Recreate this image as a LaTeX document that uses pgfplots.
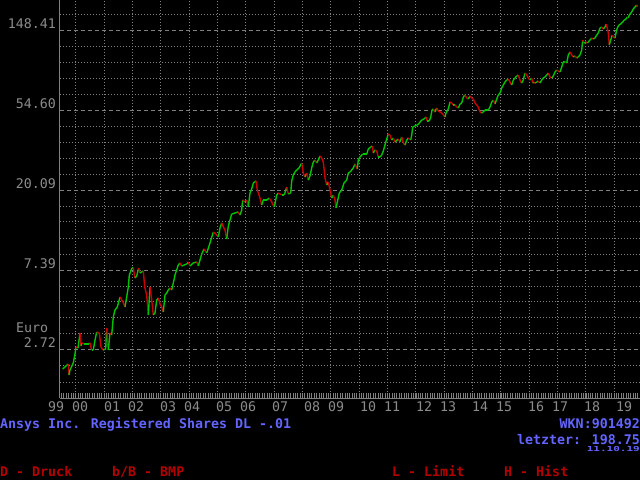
\documentclass[border=0pt]{standalone}
\usepackage{fontspec}
\usepackage{graphicx}
\usepackage{pgfplots}
\pgfplotsset{compat=1.18}
\newfontfamily\mono{DejaVu Sans Mono}
\definecolor{gr}{RGB}{128,128,128}
\definecolor{lbl}{RGB}{140,140,140}
\definecolor{blu}{RGB}{100,100,255}
\definecolor{rd}{RGB}{180,0,0}
\newcommand{\lf}{\mono\fontsize{13.3}{16}\selectfont}
\newcommand{\bfnt}{\mono\bfseries\fontsize{13.3}{16}\selectfont}
\pgfplotstableread{
t p c
1999.541 2.144 0
1999.658 2.226 0
1999.739 2.282 1
1999.764 1.989 0
1999.799 2.117 0
1999.915 2.311 0
1999.975 2.586 0
2000.011 2.822 1
2000.081 2.787 0
2000.152 3.362 1
2000.187 2.858 0
2000.222 2.967 1
2000.293 2.930 0
2000.469 2.930 0
2000.504 2.967 1
2000.564 2.718 0
2000.621 2.718 0
2000.681 3.080 0
2000.741 3.404 1
2000.832 3.362 1
2000.892 2.822 1
2000.963 2.718 0
2001.058 2.753 0
2001.093 3.579 1
2001.150 2.718 0
2001.210 3.362 1
2001.270 3.279 0
2001.326 4.106 0
2001.386 4.482 0
2001.467 4.653 0
2001.563 5.273 1
2001.668 4.953 1
2001.739 4.653 0
2001.799 5.273 0
2001.855 5.975 0
2001.891 6.941 0
2001.986 7.576 0
2002.032 7.576 1
2002.092 6.686 0
2002.152 6.855 0
2002.222 7.576 1
2002.268 7.117 0
2002.385 7.297 1
2002.434 5.975 1
2002.504 5.406 1
2002.561 4.210 0
2002.621 5.975 1
2002.681 5.078 1
2002.737 4.210 0
2002.797 4.317 0
2002.857 5.078 0
2002.914 5.207 1
2002.974 4.831 1
2003.034 4.653 1
2003.090 4.371 0
2003.150 5.406 0
2003.210 5.543 0
2003.266 5.755 0
2003.326 5.900 1
2003.386 5.755 0
2003.443 6.281 0
2003.503 6.941 0
2003.619 7.866 0
2003.679 8.065 1
2003.739 7.768 0
2003.915 7.965 0
2003.972 8.166 1
2004.032 7.768 0
2004.138 8.065 0
2004.268 8.166 1
2004.325 7.768 0
2004.384 8.373 0
2004.444 9.025 0
2004.526 9.607 1
2004.621 9.139 0
2004.737 10.36 0
2004.854 11.88 1
2004.949 11.59 1
2005.030 11.16 0
2005.090 12.49 0
2005.150 13.30 1
2005.206 12.65 1
2005.266 12.18 1
2005.326 10.89 0
2005.383 12.81 0
2005.443 13.80 0
2005.503 14.88 0
2005.619 15.07 0
2005.735 15.26 1
2005.795 14.70 0
2005.855 15.64 0
2005.891 17.73 1
2005.972 17.29 0
2006.032 17.73 1
2006.088 16.24 0
2006.148 19.35 0
2006.208 20.34 0
2006.265 21.92 0
2006.360 22.48 1
2006.406 20.09 1
2006.501 18.17 1
2006.561 16.65 0
2006.617 17.73 0
2006.737 17.73 0
2006.829 18.17 1
2006.914 17.29 1
2007.005 16.24 0
2007.090 18.87 0
2007.146 19.35 1
2007.266 18.87 0
2007.358 18.87 0
2007.443 20.85 1
2007.499 19.11 0
2007.584 19.35 0
2007.619 22.48 0
2007.675 24.23 0
2007.735 25.15 0
2007.795 25.79 0
2007.877 26.44 0
2007.972 28.15 1
2008.028 24.84 1
2008.088 23.63 0
2008.148 24.84 1
2008.205 22.76 0
2008.265 23.93 0
2008.324 26.44 0
2008.381 28.50 0
2008.441 29.22 1
2008.501 28.15 0
2008.557 29.22 0
2008.617 30.72 1
2008.677 29.96 1
2008.734 28.50 1
2008.794 23.34 1
2008.854 21.38 0
2008.910 22.20 1
2008.970 20.09 1
2009.030 18.17 0
2009.086 18.87 1
2009.146 17.73 1
2009.182 16.04 0
2009.228 17.29 0
2009.298 19.35 0
2009.383 20.09 0
2009.464 21.92 0
2009.559 22.76 0
2009.616 24.84 0
2009.676 25.15 0
2009.792 26.44 0
2009.852 27.80 1
2009.933 26.11 0
2009.968 29.22 0
2010.028 30.34 0
2010.123 31.50 0
2010.265 31.50 0
2010.321 33.53 0
2010.406 34.38 0
2010.462 34.81 1
2010.497 31.90 0
2010.557 33.12 1
2010.617 32.70 1
2010.674 30.34 0
2010.734 30.34 0
2010.794 31.11 0
2010.850 32.70 0
2010.910 35.25 0
2010.970 38.00 0
2011.026 40.45 1
2011.086 39.94 1
2011.146 37.53 0
2011.203 38.47 1
2011.263 36.60 0
2011.379 38.00 1
2011.439 36.60 0
2011.499 38.96 1
2011.556 36.14 1
2011.616 35.25 0
2011.676 37.53 0
2011.732 38.47 1
2011.817 37.53 0
2011.852 39.94 0
2011.887 44.15 0
2011.968 44.70 0
2012.049 45.26 0
2012.120 46.41 0
2012.205 48.18 0
2012.286 48.79 0
2012.356 50.02 1
2012.402 47.58 0
2012.473 47.58 0
2012.522 50.02 0
2012.568 54.60 0
2012.614 55.29 1
2012.674 53.25 0
2012.734 55.98 1
2012.790 53.92 1
2012.850 53.25 1
2012.910 52.59 1
2012.966 51.29 1
2013.026 50.02 0
2013.062 52.59 0
2013.143 55.29 0
2013.203 60.34 1
2013.263 59.59 1
2013.319 58.12 0
2013.379 58.12 1
2013.439 56.68 1
2013.496 55.98 0
2013.556 58.85 0
2013.616 59.59 0
2013.672 64.23 0
2013.732 65.86 1
2013.792 63.43 1
2013.848 62.65 0
2013.908 65.04 1
2013.968 63.43 1
2014.025 62.65 1
2014.085 59.59 1
2014.145 58.12 1
2014.201 56.68 1
2014.261 53.25 1
2014.321 52.59 0
2014.377 53.25 0
2014.437 54.60 0
2014.554 54.60 0
2014.614 56.68 0
2014.674 60.34 0
2014.730 61.87 1
2014.790 58.85 0
2014.850 62.65 0
2014.907 65.86 0
2014.967 67.52 0
2015.026 71.88 0
2015.083 74.62 0
2015.143 77.47 0
2015.203 79.44 0
2015.259 80.43 1
2015.319 77.47 1
2015.379 74.62 0
2015.436 79.44 0
2015.496 81.45 0
2015.556 83.51 0
2015.612 84.56 1
2015.672 79.44 1
2015.732 76.51 0
2015.788 79.44 0
2015.848 86.70 1
2015.908 84.56 1
2015.965 81.45 1
2016.025 79.44 0
2016.085 81.45 1
2016.120 76.51 0
2016.166 77.47 1
2016.201 76.51 0
2016.261 77.47 0
2016.318 78.45 1
2016.377 76.51 0
2016.437 79.44 0
2016.494 81.45 0
2016.554 82.47 0
2016.614 84.56 0
2016.670 86.70 1
2016.730 82.47 1
2016.790 81.45 0
2016.847 83.51 0
2016.907 87.79 0
2016.967 90.02 1
2017.023 88.90 1
2017.083 87.79 0
2017.143 93.45 0
2017.199 99.48 0
2017.259 99.48 1
2017.319 98.25 0
2017.376 108.6 0
2017.436 112.7 1
2017.496 108.6 1
2017.552 105.9 0
2017.612 107.2 1
2017.672 104.6 0
2017.728 105.9 0
2017.788 108.6 0
2017.848 115.6 0
2017.884 131.0 1
2017.929 126.2 0
2018.000 127.7 1
2018.046 126.2 0
2018.081 127.7 0
2018.141 131.0 0
2018.201 134.3 1
2018.258 132.6 0
2018.317 134.3 0
2018.377 139.4 0
2018.434 143.0 0
2018.494 152.2 0
2018.554 154.1 1
2018.610 150.3 0
2018.670 154.1 0
2018.705 160.0 1
2018.741 154.1 1
2018.787 143.0 1
2018.822 123.0 0
2018.871 131.0 0
2018.928 139.4 1
2018.963 136.0 1
2019.023 134.3 0
2019.058 143.0 0
2019.104 152.2 0
2019.164 158.0 0
2019.224 160.0 0
2019.295 164.0 0
2019.351 168.2 0
2019.411 170.3 0
2019.457 174.6 1
2019.492 172.5 0
2019.527 179.1 0
2019.612 185.9 0
2019.668 193.0 0
2019.728 197.9 0
2019.788 202.9 1
2019.824 198.75 0
}\ansys
\begin{document}
\begin{tikzpicture}[x=1pt,y=1pt]
\useasboundingbox (0,0) rectangle (640,480);
\fill[black] (0,0) rectangle (640,480);
\begin{axis}[
  at={(60pt,82pt)}, anchor=south west,
  scale only axis, width=580pt, height=398pt,
  xmin=1999.446, xmax=2019.905,
  ymode=log, ymin=1.4918, ymax=215.98,
  axis x line*=bottom, axis y line*=left,
  axis line style={-, draw=gr, line width=1pt},
  tick pos=left, tick align=inside,
  major tick length=5pt, minor tick length=5pt,
  every tick/.style={draw=gr, line width=0.8pt},
  ytick style={draw=none},
  xtick={2000,2001,...,2019}, xticklabels={},
  minor xtick={1999.5,1999.58333,...,2019.9},
  ytick={2.71828,7.38906,20.0855,54.5982,148.413},
  yticklabels={2.72,7.39,20.09,54.60,148.41},
  minor ytick={1.8221,2.2255,3.3201,4.0552,4.9530,6.0496,9.0250,11.023,13.464,16.445,24.533,29.964,36.598,44.701,66.686,81.451,99.484,121.51,181.27},
  xmajorgrids, ymajorgrids, yminorgrids,
  major x grid style={draw=gr, line width=1pt, dash pattern=on 1pt off 2pt},
  major y grid style={draw=gr, line width=1pt, dash pattern=on 4pt off 3pt},
  minor y grid style={draw=gr, line width=1pt, dash pattern=on 1pt off 2pt},
  yticklabel style={font=\lf, text=lbl, anchor=base east, inner sep=0pt, xshift=-4pt, yshift=2pt},
  colormap={updown}{rgb255=(0,195,0) rgb255=(205,0,0)},
  colormap name=updown,
  point meta min=0, point meta max=1,
]
\addplot[mesh, shader=flat corner, point meta=explicit, line width=1.4pt, line join=round] table[x=t, y=p, meta=c] {\ansys};
\end{axis}
\node[anchor=base west, inner sep=0pt, text=lbl, font=\lf] at (16,148) {Euro};
\foreach \xx/\lab in {48/99,72/00,104/01,128/02,160/03,184/04,216/05,240/06,272/07,304/08,328/09,360/10,384/11,416/12,440/13,472/14,496/15,528/16,552/17,584/18,616/19}
  \node[anchor=base west, inner sep=0pt, text=lbl, font=\lf] at (\xx,68.3) {\lab};
\node[anchor=base west, inner sep=0pt, text=blu, font=\bfnt] at (0,51.7) {Ansys Inc. Registered Shares DL -.01};
\node[anchor=base east, inner sep=0pt, text=blu, font=\bfnt] at (640,51.7) {WKN:901492};
\node[anchor=base east, inner sep=0pt, text=blu, font=\bfnt] at (640,35.7) {letzter: 198.75};
\node[anchor=base east, inner sep=0pt, text=blu] at (640,28.3) {\scalebox{1}[0.63]{\mono\bfseries\fontsize{11}{12}\selectfont 11.10.19}};
\node[anchor=base west, inner sep=0pt, text=rd, font=\bfnt] at (0,4) {D - Druck};
\node[anchor=base west, inner sep=0pt, text=rd, font=\bfnt] at (112,4) {b/B - BMP};
\node[anchor=base west, inner sep=0pt, text=rd, font=\bfnt] at (392,4) {L - Limit};
\node[anchor=base west, inner sep=0pt, text=rd, font=\bfnt] at (504,4) {H - Hist};
\end{tikzpicture}
\end{document}
